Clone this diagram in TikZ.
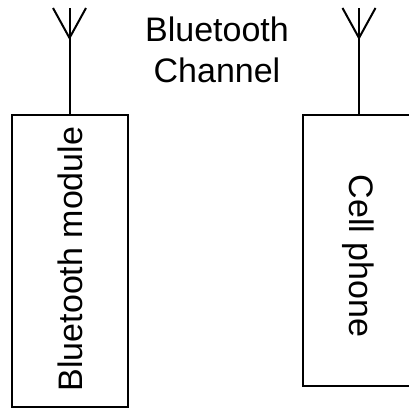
\documentclass[tikz,border=0pt]{standalone}
\usepackage{fontspec}
\setmainfont{Liberation Sans}
\begin{document}
\begin{tikzpicture}[x=1pt,y=1pt,
  wire/.style={line width=2pt, line join=miter},
  unit/.style={draw, line width=2pt, inner sep=0pt, outer sep=0pt},
  lbl/.style={font=\fontsize{34}{41}\selectfont, inner sep=0pt}]
  \useasboundingbox (0,0) rectangle (409,409);

  % the two devices
  \node[unit, minimum width=116, minimum height=292] (bm) at (69.5,148) {};
  \node[unit, minimum width=112, minimum height=271] (cp) at (359,158.5) {};

  % antenna masts and their V-shaped tops
  \coordinate (bmtop) at ([yshift=107]bm.north);
  \coordinate (cptop) at ([yshift=107]cp.north);
  \draw[wire] (bm.north) -- (bmtop);
  \draw[wire] (cp.north) -- (cptop);
  \draw[wire] ([xshift=-16.5]bmtop) -- ([yshift=-30]bmtop) -- ([xshift=16.5]bmtop);
  \draw[wire] ([xshift=-16.5]cptop) -- ([yshift=-30]cptop) -- ([xshift=16.5]cptop);

  % labels
  \node[lbl, align=center, anchor=base] (ch) at (217,326) {Bluetooth\\Channel};
  \node[lbl, rotate=90, anchor=base] (bmtxt) at (82,150) {Bluetooth module};
  \node[lbl, rotate=-90, anchor=base] (cptxt) at (349,153) {Cell phone};
\end{tikzpicture}
\end{document}
